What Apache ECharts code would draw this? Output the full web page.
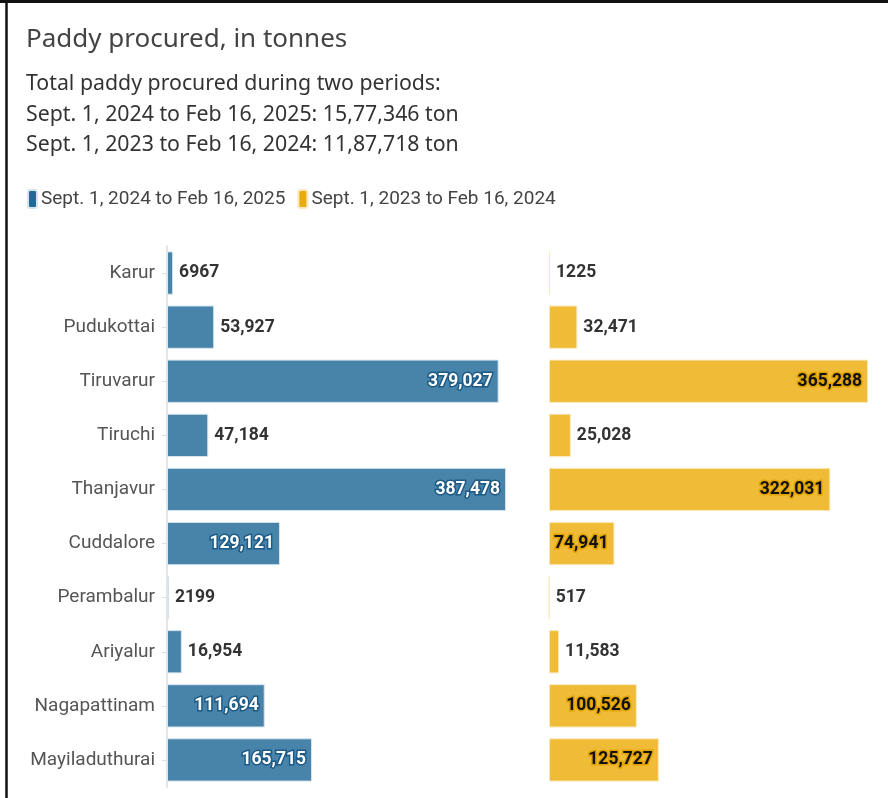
<!DOCTYPE html>
<html>
<head>
<meta charset="utf-8">
<script src="https://cdn.jsdelivr.net/npm/echarts@6/dist/echarts.min.js"></script>
<style>html,body{margin:0;padding:0;background:#fff;}#c{width:888px;height:798px;}</style>
</head>
<body>
<div id="c"></div>
<script>
const categories = ['Karur','Pudukottai','Tiruvarur','Tiruchi','Thanjavur','Cuddalore','Perambalur','Ariyalur','Nagapattinam','Mayiladuthurai'];
const period2025 = [6967, 53927, 379027, 47184, 387478, 129121, 2199, 16954, 111694, 165715];
const period2024 = [1225, 32471, 365288, 25028, 322031, 74941, 517, 11583, 100526, 125727];
const seriesNames = ['Sept. 1, 2024 to Feb 16, 2025', 'Sept. 1, 2023 to Feb 16, 2024'];
const titleText = 'Paddy procured, in tonnes';
const subtitleLines = ['Total paddy procured during two periods:', 'Sept. 1, 2024 to Feb 16, 2025: 15,77,346 ton', 'Sept. 1, 2023 to Feb 16, 2024: 11,87,718 ton'];

const FONT = 'Roboto, "Noto Sans", sans-serif';
function fmt(v){ return v >= 10000 ? v.toLocaleString('en-US') : String(v); }
function build(values, insideColor, insideBorder){
  return values.map(v => {
    const inside = v >= 70000;
    return {
      value: v,
      label: inside ? {
        position: 'insideRight', distance: 6, color: insideColor,
        textBorderColor: insideBorder, textBorderWidth: 3
      } : {
        position: 'right', distance: 6, color: '#333', textBorderWidth: 0
      }
    };
  });
}

const chart = echarts.init(document.getElementById('c'), null, {renderer: 'canvas'});
const labelBase = {show: true, fontFamily: FONT, fontSize: 17.5, fontWeight: 'bold', formatter: p => fmt(p.value)};
chart.setOption({
  animation: false,
  backgroundColor: '#fff',
  title: {
    left: 26, top: 24, padding: 0,
    text: titleText,
    subtext: subtitleLines.join('\n'),
    itemGap: 13,
    textStyle: {fontFamily: '"Noto Sans", sans-serif', fontSize: 26, fontWeight: 'normal', color: '#444', lineHeight: 32},
    subtextStyle: {fontFamily: '"Noto Sans", sans-serif', fontSize: 21.3, color: '#333', lineHeight: 30.5}
  },
  legend: {
    left: 22, top: 184,
    icon: 'roundRect', itemWidth: 9, itemHeight: 18, itemGap: 12,
    textStyle: {fontFamily: FONT, fontSize: 19, color: '#444', padding: [0,0,0,-1]},
    data: [
      {name: seriesNames[0], itemStyle: {color: '#1f6a98'}},
      {name: seriesNames[1], itemStyle: {color: '#e8ab10'}}
    ]
  },
  graphic: [
    {type: 'line', shape: {x1: 0, y1: 1.5, x2: 888, y2: 1.5}, style: {stroke: '#111', lineWidth: 3}},
    {type: 'line', shape: {x1: 6.5, y1: 0, x2: 6.5, y2: 798}, style: {stroke: '#111', lineWidth: 2.5}}
  ],
  grid: [
    {left: 167, top: 246, width: 350, bottom: 11},
    {left: 549, top: 246, width: 332, bottom: 11}
  ],
  xAxis: [
    {type: 'value', gridIndex: 0, min: 0, max: 400000, show: false},
    {type: 'value', gridIndex: 1, min: 0, max: 380000, show: false}
  ],
  yAxis: [
    {type: 'category', gridIndex: 0, data: categories, inverse: true,
     axisLine: {show: true, lineStyle: {color: '#e6e6e6', width: 2}},
     axisTick: {show: true, length: 5, alignWithLabel: true, lineStyle: {color: '#ddd'}},
     axisLabel: {fontFamily: FONT, fontSize: 19, color: '#555', margin: 12}},
    {type: 'category', gridIndex: 1, data: categories, inverse: true,
     axisLine: {show: false}, axisTick: {show: false}, axisLabel: {show: false}}
  ],
  series: [
    {name: seriesNames[0], type: 'bar', xAxisIndex: 0, yAxisIndex: 0, barCategoryGap: '20%',
     itemStyle: {color: '#4884aa', borderColor: '#d6e4ee', borderWidth: 1},
     label: labelBase, data: build(period2025, '#fff', '#1d5a85')},
    {name: seriesNames[1], type: 'bar', xAxisIndex: 1, yAxisIndex: 1, barCategoryGap: '20%',
     itemStyle: {color: '#f0bb36', borderColor: '#fbe9bd', borderWidth: 1},
     label: labelBase, data: build(period2024, '#111', '#e0a300')}
  ]
});
</script>
</body>
</html>
